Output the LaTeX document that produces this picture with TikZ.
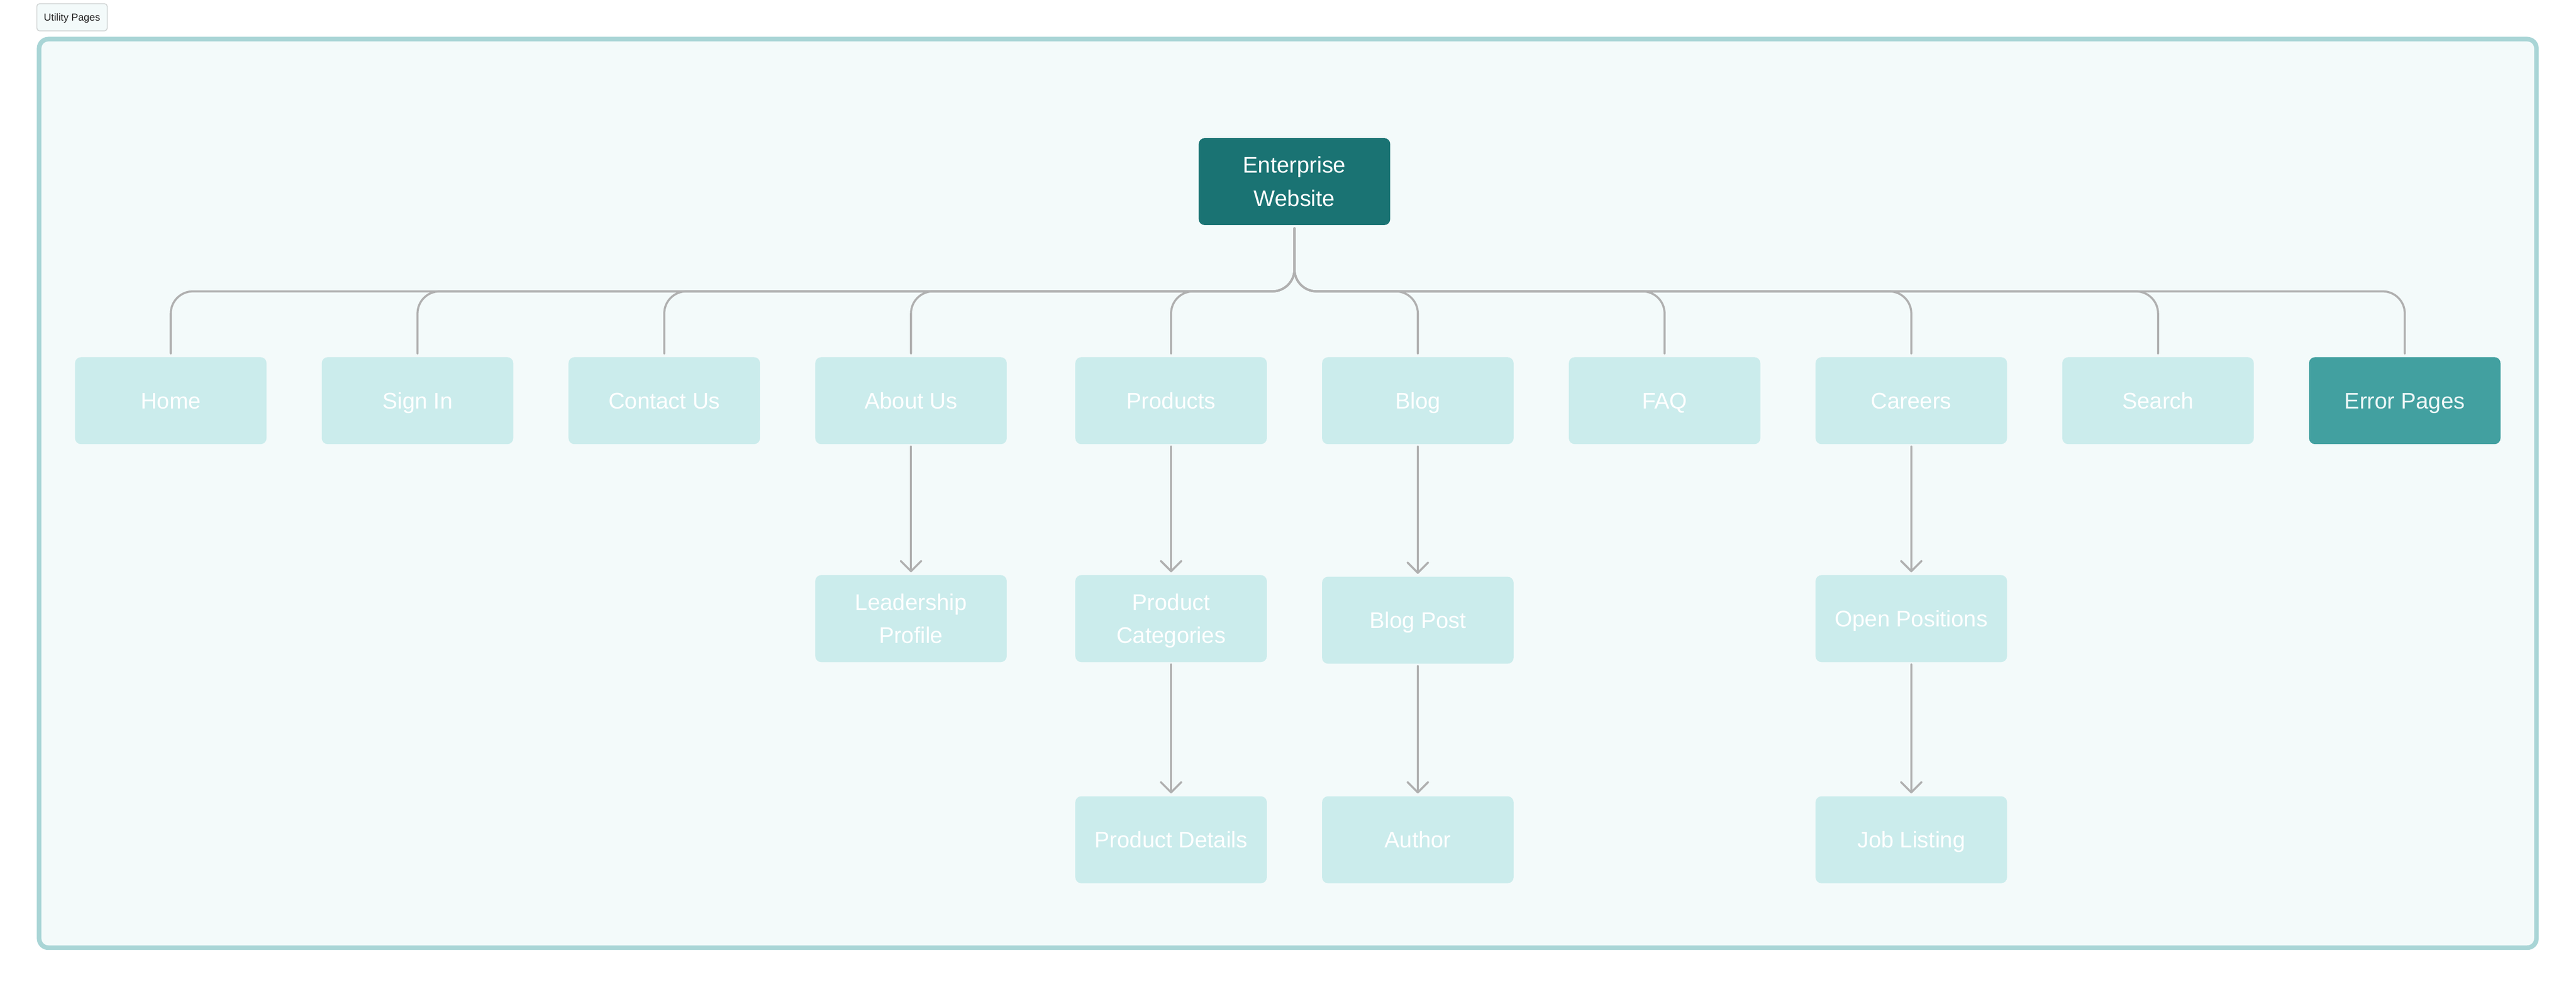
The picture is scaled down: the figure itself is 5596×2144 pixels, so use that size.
\documentclass[tikz,border=0pt]{standalone}
\usepackage{fontspec}
\setmainfont{Liberation Sans}
\usetikzlibrary{arrows.meta}
\definecolor{frameBorder}{HTML}{A9D5D6}
\definecolor{frameFill}{HTML}{F3FAFA}
\definecolor{pageFill}{HTML}{CBECEC}
\definecolor{rootFill}{HTML}{1A7373}
\definecolor{errFill}{HTML}{42A0A0}
\definecolor{errText}{HTML}{EDF7F7}
\definecolor{linkGray}{HTML}{B0B0B0}
\definecolor{tagBorder}{HTML}{D3D7D7}
\definecolor{tagText}{HTML}{1F1F1F}
\newcommand\pgline[1]{\rule{0pt}{35pt}\smash{#1}}
\begin{document}
\begin{tikzpicture}[x=1pt,y=-1pt,
  pagebox/.style={rectangle, rounded corners=13pt, fill=pageFill, text=white,
    minimum width=416pt, minimum height=189pt, inner sep=0pt, align=center,
    font=\fontsize{49}{72}\selectfont},
  rootbox/.style={pagebox, fill=rootFill},
  errbox/.style={pagebox, fill=errFill, text=errText},
  tagbox/.style={rectangle, rounded corners=6pt, draw=tagBorder, line width=2pt, fill=frameFill,
    text=tagText, minimum width=153pt, minimum height=59pt, inner sep=0pt,
    text height=16pt, text depth=0pt,
    font=\fontsize{22}{26}\selectfont},
  tree/.style={draw=linkGray, line width=4.5pt, line cap=round, rounded corners=48pt,
    shorten <=7pt, shorten >=8pt},
  link/.style={draw=linkGray, line width=4.5pt, line cap=round,
    -{Straight Barb[length=22pt,width=44pt,round]}, shorten <=5pt, shorten >=6pt}
]
\useasboundingbox (0,0) rectangle (5596,2144);
\draw[frameBorder, line width=10pt, fill=frameFill, rounded corners=20pt] (85,85) rectangle (5510,2059);
\node[tagbox] (tag) at (156.5,37.5) {Utility Pages};

\node[rootbox] (root) at (2812,394.5) {\pgline{Enterprise}\\\pgline{Website}};

\node[pagebox] (home) at (371,870.5) {\pgline{Home}};
\node[pagebox] (signin) at (907,870.5) {\pgline{Sign In}};
\node[pagebox] (contact) at (1443,870.5) {\pgline{Contact Us}};
\node[pagebox] (about) at (1979,870.5) {\pgline{About Us}};
\node[pagebox] (products) at (2544,870.5) {\pgline{Products}};
\node[pagebox] (blog) at (3080,870.5) {\pgline{Blog}};
\node[pagebox] (faq) at (3616,870.5) {\pgline{FAQ}};
\node[pagebox] (careers) at (4152,870.5) {\pgline{Careers}};
\node[pagebox] (search) at (4688,870.5) {\pgline{Search}};
\node[errbox] (error) at (5224,870.5) {\pgline{Error Pages}};

\node[pagebox] (leader) at (1979,1344) {\pgline{Leadership}\\\pgline{Profile}};
\node[pagebox] (prodcat) at (2544,1344) {\pgline{Product}\\\pgline{Categories}};
\node[pagebox] (blogpost) at (3080,1347.5) {\pgline{Blog Post}};
\node[pagebox] (openpos) at (4152,1344) {\pgline{Open Positions}};

\node[pagebox] (proddet) at (2544,1824.5) {\pgline{Product Details}};
\node[pagebox] (author) at (3080,1824.5) {\pgline{Author}};
\node[pagebox] (joblist) at (4152,1824.5) {\pgline{Job Listing}};

\coordinate (bus) at (0,633);
\foreach \c in {home,signin,contact,about,products,blog,faq,careers,search,error}{
  \draw[tree] (root.south) |- (\c.north |- bus) -- (\c.north);
}

\draw[link] (about) -- (leader);
\draw[link] (products) -- (prodcat);
\draw[link] (blog) -- (blogpost);
\draw[link] (careers) -- (openpos);
\draw[link] (prodcat) -- (proddet);
\draw[link] (blogpost) -- (author);
\draw[link] (openpos) -- (joblist);
\end{tikzpicture}
\end{document}
